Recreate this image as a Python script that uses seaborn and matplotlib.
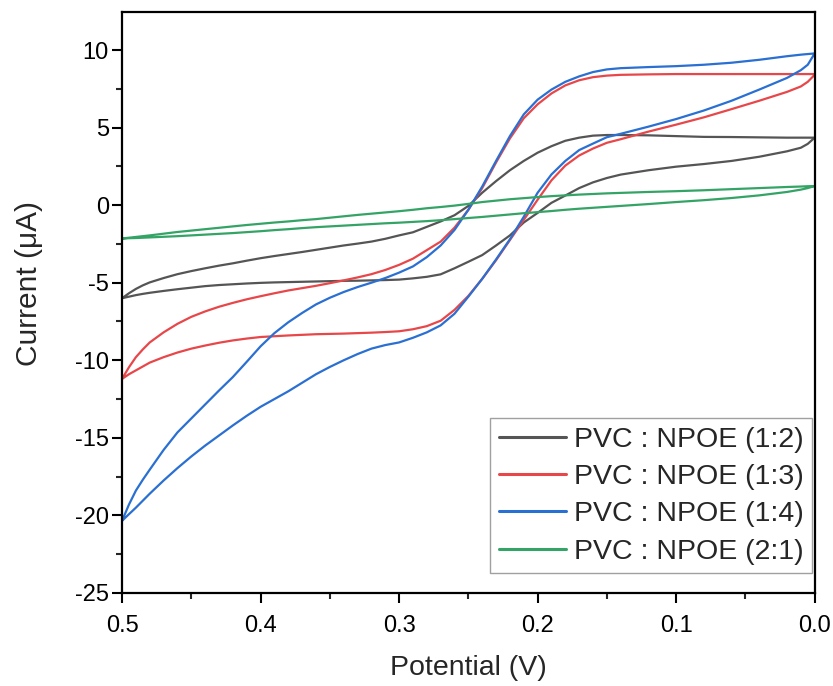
import pandas as pd
import matplotlib
matplotlib.use("Agg")
import matplotlib.pyplot as plt
from matplotlib.ticker import MultipleLocator
import seaborn as sns

# Potential grid (V), scanned 0.5 -> 0.0 and back
potential = [0.50, 0.495, 0.49, 0.485, 0.48, 0.47, 0.46, 0.45, 0.44, 0.43, 0.42,
             0.41, 0.40, 0.39, 0.38, 0.37, 0.36, 0.35, 0.34, 0.33, 0.32, 0.31,
             0.30, 0.29, 0.28, 0.27, 0.26, 0.25, 0.24, 0.23, 0.22, 0.21, 0.20,
             0.19, 0.18, 0.17, 0.16, 0.15, 0.14, 0.12, 0.10, 0.08, 0.06, 0.04,
             0.02, 0.01, 0.005, 0.00]

labels = ["PVC : NPOE (1:2)", "PVC : NPOE (1:3)", "PVC : NPOE (1:4)", "PVC : NPOE (2:1)"]
colors = ["#555555", "#e8474a", "#2a6fd2", "#34a466"]

# current (uA), upper branch (0.5 -> 0.0)
black_up = [-6.0, -5.68, -5.4, -5.17, -4.98, -4.7, -4.45, -4.25, -4.07, -3.9, -3.75,
            -3.58, -3.42, -3.28, -3.15, -3.02, -2.88, -2.74, -2.6, -2.48, -2.35, -2.17,
            -1.95, -1.75, -1.4, -1.05, -0.65, -0.05, 0.8, 1.55, 2.25, 2.85, 3.38,
            3.8, 4.15, 4.35, 4.48, 4.52, 4.52, 4.5, 4.45, 4.4, 4.39, 4.37,
            4.35, 4.35, 4.35, 4.35]
red_up = [-11.2, -10.45, -9.8, -9.3, -8.85, -8.2, -7.65, -7.2, -6.85, -6.55, -6.3,
          -6.07, -5.87, -5.68, -5.5, -5.35, -5.2, -5.03, -4.85, -4.66, -4.45, -4.18,
          -3.85, -3.45, -2.9, -2.35, -1.45, -0.3, 1.1, 2.75, 4.3, 5.6, 6.5,
          7.2, 7.72, 8.05, 8.25, 8.35, 8.4, 8.43, 8.45, 8.45, 8.45, 8.45,
          8.45, 8.45, 8.45, 8.45]
blue_up = [-20.35, -19.3, -18.4, -17.7, -17.05, -15.78, -14.65, -13.75, -12.85, -11.95, -11.08,
           -10.1, -9.1, -8.25, -7.55, -6.95, -6.4, -5.97, -5.6, -5.28, -5.0, -4.7,
           -4.35, -3.95, -3.35, -2.6, -1.6, -0.3, 1.2, 2.85, 4.45, 5.85, 6.8,
           7.45, 7.95, 8.3, 8.58, 8.75, 8.83, 8.9, 8.96, 9.05, 9.18, 9.37,
           9.6, 9.7, 9.74, 9.78]
green_up = [-2.15, -2.1, -2.05, -2.0, -1.95, -1.84, -1.73, -1.64, -1.55, -1.46, -1.37,
            -1.28, -1.2, -1.12, -1.05, -0.97, -0.9, -0.81, -0.72, -0.63, -0.55, -0.47,
            -0.39, -0.3, -0.2, -0.12, -0.03, 0.08, 0.2, 0.29, 0.38, 0.45, 0.52,
            0.58, 0.63, 0.68, 0.72, 0.76, 0.79, 0.85, 0.9, 0.96, 1.03, 1.1,
            1.17, 1.2, 1.22, 1.23]

# current (uA), lower branch (listed on the same grid, scanned 0.0 -> 0.5)
black_down = [-6.0, -5.9, -5.8, -5.72, -5.65, -5.53, -5.42, -5.32, -5.22, -5.15, -5.1,
              -5.05, -5.01, -4.98, -4.96, -4.94, -4.92, -4.9, -4.88, -4.87, -4.85, -4.83,
              -4.8, -4.72, -4.62, -4.46, -4.07, -3.65, -3.22, -2.6, -1.95, -1.12, -0.5,
              0.15, 0.62, 1.1, 1.47, 1.75, 1.97, 2.25, 2.48, 2.65, 2.85, 3.12,
              3.47, 3.7, 3.95, 4.35]
red_down = [-11.2, -10.9, -10.65, -10.4, -10.15, -9.8, -9.5, -9.25, -9.05, -8.87, -8.72,
            -8.6, -8.5, -8.45, -8.4, -8.36, -8.32, -8.3, -8.28, -8.25, -8.22, -8.18,
            -8.13, -8.0, -7.8, -7.45, -6.75, -5.85, -4.75, -3.55, -2.25, -0.95, 0.35,
            1.6, 2.55, 3.2, 3.65, 4.02, 4.25, 4.74, 5.19, 5.66, 6.19, 6.73,
            7.3, 7.65, 7.95, 8.4]
blue_down = [-20.35, -19.92, -19.5, -19.05, -18.6, -17.75, -16.95, -16.2, -15.5, -14.85, -14.2,
             -13.58, -13.0, -12.5, -12.0, -11.45, -10.9, -10.43, -10.0, -9.6, -9.25, -9.02,
             -8.85, -8.55, -8.2, -7.75, -7.0, -5.9, -4.75, -3.5, -2.2, -0.75, 0.8,
             1.98, 2.85, 3.55, 3.97, 4.38, 4.6, 5.06, 5.55, 6.1, 6.73, 7.45,
             8.2, 8.7, 9.05, 9.78]
green_down = [-2.15, -2.13, -2.12, -2.1, -2.08, -2.04, -2.0, -1.95, -1.9, -1.85, -1.8,
              -1.74, -1.68, -1.61, -1.55, -1.48, -1.42, -1.37, -1.32, -1.27, -1.22, -1.17,
              -1.13, -1.08, -1.03, -0.97, -0.9, -0.83, -0.76, -0.68, -0.6, -0.52, -0.45,
              -0.38, -0.3, -0.23, -0.17, -0.11, -0.05, 0.07, 0.2, 0.32, 0.46, 0.63,
              0.85, 1.0, 1.1, 1.23]

ups = [black_up, red_up, blue_up, green_up]
downs = [black_down, red_down, blue_down, green_down]

sns.set_theme(style="ticks")
plt.rcParams['font.family'] = ['Liberation Sans', 'DejaVu Sans']
plt.rcParams['axes.unicode_minus'] = False

# one closed loop per sample: upper branch forward, lower branch back
frames = []
for lab, up, down in zip(labels, ups, downs):
    fwd = pd.DataFrame({'potential': potential, 'current': up})
    back = pd.DataFrame({'potential': potential[::-1], 'current': down[::-1]})
    loop = pd.concat([fwd, back], ignore_index=True)
    loop['sample'] = lab
    frames.append(loop)
df = pd.concat(frames, ignore_index=True)

fig = plt.figure(figsize=(8.33, 6.86), dpi=100)
ax = fig.add_axes([0.1465, 0.1356, 0.8315, 0.8469])

sns.lineplot(data=df, x='potential', y='current', hue='sample', hue_order=labels,
             palette=colors, sort=False, estimator=None, lw=1.6, ax=ax)

ax.set_xlim(0.5, 0.0)
ax.set_ylim(-25, 12.45)
ax.xaxis.set_minor_locator(MultipleLocator(0.05))
ax.yaxis.set_major_locator(MultipleLocator(5))
ax.yaxis.set_minor_locator(MultipleLocator(2.5))
ax.set_xticks([0.5, 0.4, 0.3, 0.2, 0.1, 0.0])
ax.set_xticklabels(['0.5', '0.4', '0.3', '0.2', '0.1', '0.0'])

for sp in ax.spines.values():
    sp.set_visible(True)
    sp.set_linewidth(1.6)
    sp.set_color('black')

ax.tick_params(which='major', direction='out', length=7, width=1.5, labelsize=17,
               top=False, right=False, colors='black')
ax.tick_params(which='minor', direction='out', length=4, width=1.5,
               top=False, right=False)
ax.tick_params(axis='x', which='major', pad=9)
ax.tick_params(axis='y', which='major', pad=2.5)

ax.set_xlabel('Potential (V)', fontsize=20.5)
ax.set_ylabel('Current (\u03bcA)', fontsize=21.5)
ax.xaxis.set_label_coords(0.5, -0.107)
ax.yaxis.set_label_coords(-0.114, 0.533)

handles, labs = ax.get_legend_handles_labels()
ax.get_legend().remove()
leg = ax.legend(handles, labs, loc='lower right', bbox_to_anchor=(0.996, 0.034),
                borderaxespad=0, fontsize=20.5, frameon=True, fancybox=False,
                handlelength=2.34, handletextpad=0.28, labelspacing=0.4,
                borderpad=0.3)
leg.get_frame().set_edgecolor('#888888')
leg.get_frame().set_linewidth(1.0)
for ln in leg.get_lines():
    ln.set_linewidth(2.2)

fig.savefig('out.png', dpi=100)
